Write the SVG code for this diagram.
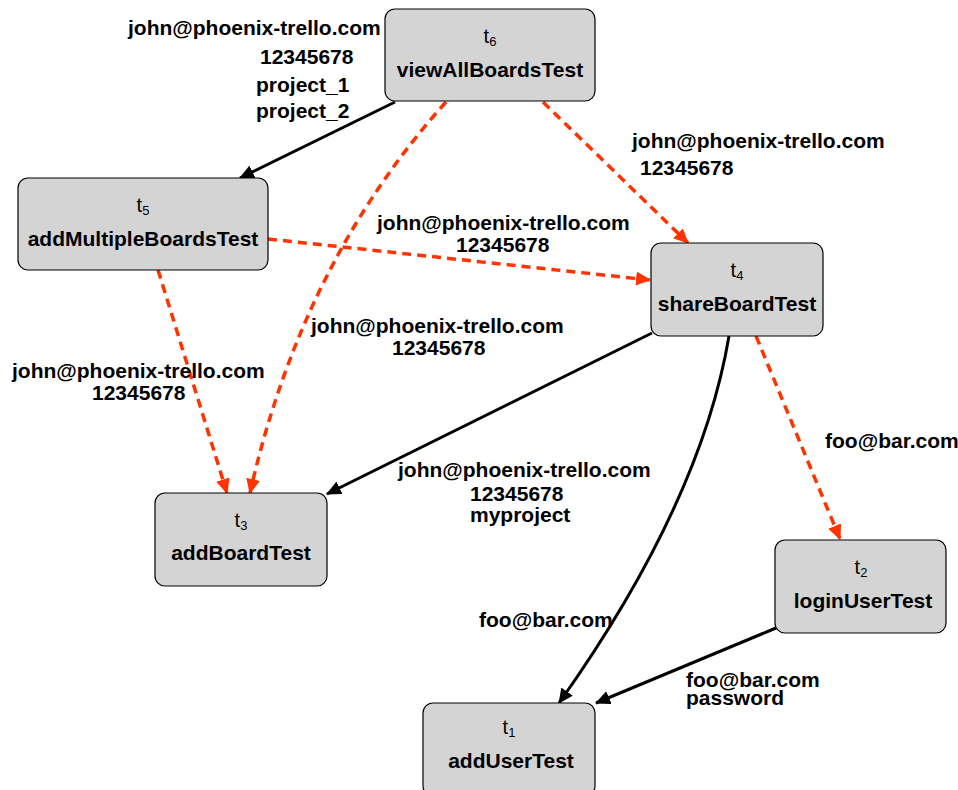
<svg xmlns="http://www.w3.org/2000/svg" width="958" height="790" viewBox="0 0 958 790">
<style>
.node rect{fill:#d4d4d4;stroke:#000;stroke-width:1.2}
.tt{font-family:"Liberation Sans",Arial,sans-serif;font-size:20px;fill:#000;text-anchor:middle}
.tt tspan{font-size:13px}
.nm{font-family:"Liberation Sans",Arial,sans-serif;font-size:21px;font-weight:bold;fill:#000;text-anchor:middle}
.lbl{font-family:"Liberation Sans",Arial,sans-serif;font-size:21px;font-weight:bold;fill:#000}
.solid{fill:none;stroke:#000;stroke-width:3;marker-end:url(#ab)}
.dash{fill:none;stroke:#ff3300;stroke-width:3.5;stroke-dasharray:9 6;marker-end:url(#ar)}
</style>
<defs>
<marker id="ab" markerUnits="userSpaceOnUse" markerWidth="16" markerHeight="14" refX="14" refY="7" orient="auto"><path d="M0,0 L15,7 L0,14 z" fill="#000"/></marker>
<marker id="ar" markerUnits="userSpaceOnUse" markerWidth="16" markerHeight="14" refX="14" refY="7" orient="auto"><path d="M0,0 L15,7 L0,14 z" fill="#ff3300"/></marker>
</defs>
<g id="connectors">
<path class="solid" d="M395,102 L240,178"/>
<path class="dash" d="M446,102 Q302,262 250,493"/>
<path class="dash" d="M543,102 L688,243"/>
<path class="dash" d="M268,239 L650,280"/>
<path class="dash" d="M158,270 L227,493"/>
<path class="solid" d="M652,333 L327,494"/>
<path class="solid" d="M729,336 Q701,503 559,703"/>
<path class="dash" d="M756,336 L840,539"/>
<path class="solid" d="M776,628 L596,703"/>
</g>
<g id="labels">
<text class="lbl" x="128" y="35">john@phoenix-trello.com</text>
<text class="lbl" x="260" y="64">12345678</text>
<text class="lbl" x="256" y="92">project_1</text>
<text class="lbl" x="256" y="118">project_2</text>
<text class="lbl" x="632" y="148">john@phoenix-trello.com</text>
<text class="lbl" x="640" y="175">12345678</text>
<text class="lbl" x="377" y="230">john@phoenix-trello.com</text>
<text class="lbl" x="456" y="252">12345678</text>
<text class="lbl" x="311" y="333">john@phoenix-trello.com</text>
<text class="lbl" x="392" y="355">12345678</text>
<text class="lbl" x="12" y="378">john@phoenix-trello.com</text>
<text class="lbl" x="92" y="400">12345678</text>
<text class="lbl" x="398" y="477">john@phoenix-trello.com</text>
<text class="lbl" x="470" y="501">12345678</text>
<text class="lbl" x="470" y="522">myproject</text>
<text class="lbl" x="825" y="448">foo@bar.com</text>
<text class="lbl" x="479" y="627">foo@bar.com</text>
<text class="lbl" x="686" y="687">foo@bar.com</text>
<text class="lbl" x="686" y="705">password</text>
</g>
<g id="t6" class="node"><rect x="385" y="9" width="210" height="92" rx="10"/><text class="tt" x="490" y="43">t<tspan dy="3">6</tspan></text><text class="nm" x="490" y="77">viewAllBoardsTest</text></g>
<g id="t5" class="node"><rect x="18" y="178" width="250" height="92" rx="10"/><text class="tt" x="143" y="212">t<tspan dy="3">5</tspan></text><text class="nm" x="143" y="246">addMultipleBoardsTest</text></g>
<g id="t4" class="node"><rect x="651" y="243" width="172" height="93" rx="10"/><text class="tt" x="737" y="277">t<tspan dy="3">4</tspan></text><text class="nm" x="737" y="311">shareBoardTest</text></g>
<g id="t3" class="node"><rect x="155" y="493" width="172" height="93" rx="10"/><text class="tt" x="241" y="527">t<tspan dy="3">3</tspan></text><text class="nm" x="241" y="560">addBoardTest</text></g>
<g id="t2" class="node"><rect x="775" y="540" width="171" height="93" rx="10"/><text class="tt" x="861" y="574">t<tspan dy="3">2</tspan></text><text class="nm" x="863" y="608">loginUserTest</text></g>
<g id="t1" class="node"><rect x="423" y="703" width="172" height="93" rx="10"/><text class="tt" x="509" y="734">t<tspan dy="3">1</tspan></text><text class="nm" x="511" y="768">addUserTest</text></g>
</svg>
